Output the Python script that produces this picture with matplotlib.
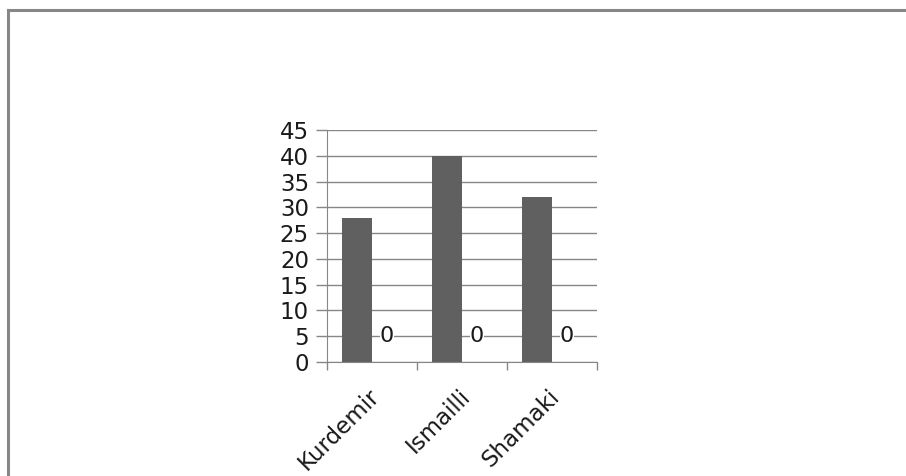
import numpy as np
import matplotlib.pyplot as plt

plt.rcParams['font.family'] = ['DejaVu Sans']

districts = ['Kurdemir', 'Ismailli', 'Shamaki']
series_a = [28, 40, 32]
series_b = [0, 0, 0]
y_ticks = list(range(0, 50, 5))

fig = plt.figure(figsize=(9.06, 4.76), dpi=100)
# chart frame (top and left edges only)
fig.add_artist(plt.Line2D([0.009, 0.009], [0, 0.979], color='#878787', lw=2.2,
                          transform=fig.transFigure))
fig.add_artist(plt.Line2D([0.009, 1.0], [0.979, 0.979], color='#878787', lw=2.2,
                          transform=fig.transFigure))

ax = fig.add_axes([327 / 906, 1 - 362 / 476, 270 / 906, 232 / 476])

x = np.arange(len(districts))
w = 1 / 3
ax.bar(x - w / 2, series_a, width=w, color='#606060', zorder=3)
bars_b = ax.bar(x + w / 2, series_b, width=w, color='#a0a0a0', zorder=3)
for rect, v in zip(bars_b, series_b):
    ax.text(rect.get_x() + rect.get_width() / 2, 5, str(v),
            ha='center', va='center', fontsize=16, color='#1a1a1a', zorder=4,
            bbox=dict(facecolor='white', edgecolor='none', pad=0.2))

ax.set_xlim(-0.5, len(districts) - 0.5)
ax.set_ylim(0, 45)
ax.set_yticks(y_ticks)
ax.set_yticklabels([str(t) for t in y_ticks], fontsize=16.5, color='#1a1a1a')
ax.yaxis.grid(True, color='#868686', lw=1)
ax.tick_params(axis='y', length=8, width=1, color='#868686', pad=5)

ax.set_xticks(np.arange(-0.5, len(districts), 1))
ax.set_xticklabels([])
ax.tick_params(axis='x', length=6, width=1, color='#868686')
for i, name in enumerate(districts):
    ax.text(i - 0.04, -4.4, name, rotation=45, rotation_mode='anchor',
            ha='right', va='top', fontsize=16.5, color='#1a1a1a')

for side in ['top', 'right']:
    ax.spines[side].set_visible(False)
ax.spines['left'].set_color('#868686')
ax.spines['bottom'].set_color('#868686')

fig.savefig('out.png', dpi=100)
